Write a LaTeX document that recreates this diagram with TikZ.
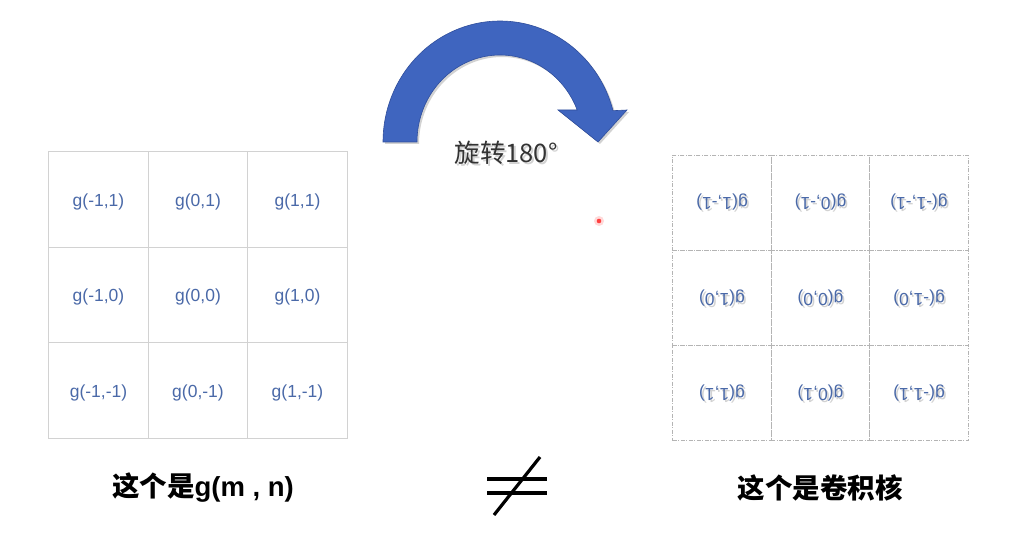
\documentclass[tikz,border=0pt]{standalone}
\usepackage{fontspec}
\setmainfont{Liberation Sans}
\newfontfamily\cjk{Noto Sans CJK SC}
\newfontfamily\lat{Liberation Sans}
\usetikzlibrary{shadows}
\definecolor{textblue}{HTML}{4A69A8}
\definecolor{arrowblue}{HTML}{3F65BF}
\definecolor{arrowedge}{HTML}{2F4E9C}
\definecolor{gridgray}{HTML}{D2D2D2}
\definecolor{dashgray}{HTML}{B4B4B4}
\tikzset{
  cell/.style={draw=gridgray, line width=0.9pt, minimum width=99.3pt, minimum height=95.3pt, inner sep=0pt},
  ctext/.style={text=textblue, font=\lat\fontsize{17.5}{21}\selectfont, inner sep=0pt},
  rcell/.style={draw=dashgray, line width=0.9pt, dash pattern=on 4pt off 1.5pt on 1pt off 1.5pt, minimum width=98.3pt, minimum height=95pt, inner sep=0pt},
  rtext/.style={rotate=180, text=textblue, font=\lat\fontsize{17.5}{21}\selectfont, inner sep=0pt},
  rshadow/.style={rotate=180, text=gray, opacity=0.35, font=\lat\fontsize{17.5}{21}\selectfont, inner sep=0pt},
  lbl/.style={font=\cjk\bfseries\fontsize{27.5}{32}\selectfont, text=black, inner sep=0pt},
  rottxt/.style={font=\cjk\fontsize{25.5}{30}\selectfont, text=black!80, inner sep=0pt},
  rotshadow/.style={font=\cjk\fontsize{25.5}{30}\selectfont, text=gray, opacity=0.35, inner sep=0pt},
  neqline/.style={line width=4pt, black}
}
\newcommand{\llab}[3]{%
  \node[cell] (#1) at #2 {};
  \node[ctext] (#1t) at ([yshift=-2pt]#1.center) {#3};
}
\newcommand{\rlab}[3]{%
  \node[rcell] (#1) at #2 {};
  \node[rshadow] (#1s) at ([shift={(1.8,1.8)}]#1.center) {#3};
  \node[rtext] (#1t) at (#1.center) {#3};
}
\begin{document}
\begin{tikzpicture}[x=1pt,y=-1pt]
\useasboundingbox (0,0) rectangle (1030,537);
\fill[white] (0,0) rectangle (1030,537);

% left grid
\llab{L11}{(98.5,199.5)}{g(-1,1)}
\llab{L12}{(198,199.5)}{g(0,1)}
\llab{L13}{(297.5,199.5)}{g(1,1)}
\llab{L21}{(98.5,295)}{g(-1,0)}
\llab{L22}{(198,295)}{g(0,0)}
\llab{L23}{(297.5,295)}{g(1,0)}
\llab{L31}{(98.5,390.5)}{g(-1,-1)}
\llab{L32}{(198,390.5)}{g(0,-1)}
\llab{L33}{(297.5,390.5)}{g(1,-1)}

% right grid (rotated)
\rlab{R11}{(722,202.5)}{g(1,-1)}
\rlab{R12}{(820.5,202.5)}{g(0,-1)}
\rlab{R13}{(919,202.5)}{g(-1,-1)}
\rlab{R21}{(722,298)}{g(1,0)}
\rlab{R22}{(820.5,298)}{g(0,0)}
\rlab{R23}{(919,298)}{g(-1,0)}
\rlab{R31}{(722,393)}{g(1,1)}
\rlab{R32}{(820.5,393)}{g(0,1)}
\rlab{R33}{(919,393)}{g(-1,1)}

% curved arrow
\fill[arrowblue, draw=arrowedge, line width=0.6pt, line join=miter,
      drop shadow={shadow xshift=2pt, shadow yshift=-2pt, opacity=0.35}]
  (383,142) -- plot[domain=180:345,samples=90] ({500+117*cos(\x)},{142+121*sin(\x)})
  -- (627,110) -- (598,142) -- (558,110)
  -- plot[domain=338.4:180,samples=90] ({500+83*cos(\x)},{142+87*sin(\x)})
  -- cycle;

% rotation label
\node[rotshadow] (rots) at (508,155) {旋转180°};
\node[rottxt] (rot) at (506,153) {旋转180°};

% laser dot
\fill[red!15] (599,221) circle (5);
\fill[red!75] (599,221) circle (2.3);

% bottom labels
\node[lbl] (lblL) at (203,488) {这个是{\lat\bfseries g(m , n)}};
\node[lbl] (lblR) at (820,488) {这个是卷积核};

% not-equal sign
\coordinate (n1a) at (487,479); \coordinate (n1b) at (547,479);
\coordinate (n2a) at (487,493); \coordinate (n2b) at (547,493);
\coordinate (s1) at (540,457); \coordinate (s2) at (494,515);
\draw[neqline] (n1a) -- (n1b);
\draw[neqline] (n2a) -- (n2b);
\draw[line width=3.2pt] (s1) -- (s2);
\end{tikzpicture}
\end{document}
